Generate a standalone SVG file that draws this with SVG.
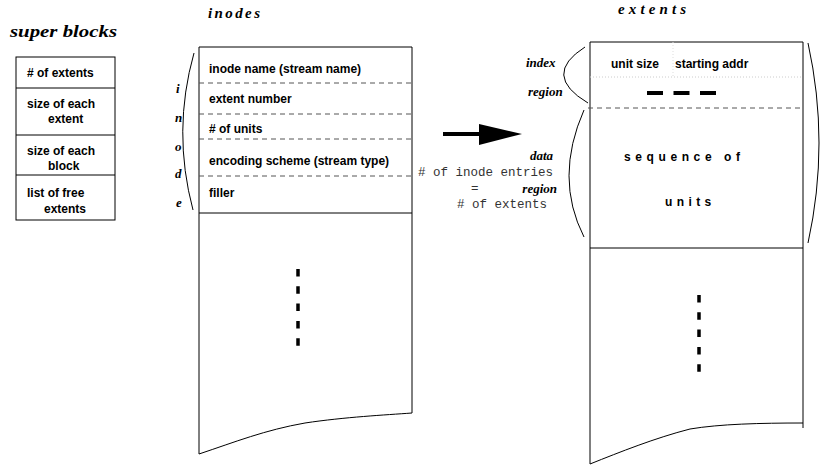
<svg xmlns="http://www.w3.org/2000/svg" width="830" height="466" viewBox="0 0 830 466">
<style>
.title{font-family:"Liberation Serif",serif;font-weight:bold;font-style:italic;fill:#000}
.lbl{font-family:"Liberation Sans",Arial,sans-serif;font-weight:bold;font-size:12px;fill:#000}
.ital{font-family:"Liberation Serif",serif;font-style:italic;font-weight:bold;font-size:13px;fill:#000}
.mono{font-family:"Liberation Mono","Courier New",monospace;font-size:12.5px;fill:#333}
.box{fill:none;stroke:#000;stroke-width:1}
.dash{stroke:#555;stroke-width:1;stroke-dasharray:5,4;fill:none}
.brace{fill:none;stroke:#000;stroke-width:1}
.thick{stroke:#000;stroke-width:3.5;fill:none}
</style>

<g id="superblocks">
<text class="title" x="10" y="37" font-size="17" textLength="107" lengthAdjust="spacingAndGlyphs">super blocks</text>
<rect class="box" x="16" y="57" width="99" height="163"/>
<line class="box" x1="16" y1="88" x2="115" y2="88"/>
<line class="box" x1="16" y1="135" x2="115" y2="135"/>
<line class="box" x1="16" y1="175" x2="115" y2="175"/>
<text class="lbl" x="27" y="77" font-size="11.5">#  of extents</text>
<text class="lbl" x="27" y="108" font-size="11.5">size of each</text>
<text class="lbl" x="48" y="123" font-size="11.5">extent</text>
<text class="lbl" x="27" y="155" font-size="11.5">size of each</text>
<text class="lbl" x="48" y="170" font-size="11.5">block</text>
<text class="lbl" x="27" y="197" font-size="11.5">list of free</text>
<text class="lbl" x="44" y="213" font-size="11.5">extents</text>
</g>

<g id="inodes">
<text class="title" x="208" y="18" font-size="15" textLength="52">inodes</text>
<path class="box" d="M199,454 L199,47 L412,47 L412,413 C385,415 345,417 305,423 C265,430 235,442 199,454"/>
<line class="dash" x1="199" y1="83" x2="412" y2="83"/>
<line class="dash" x1="199" y1="114" x2="412" y2="114"/>
<line class="dash" x1="199" y1="139" x2="412" y2="139"/>
<line class="dash" x1="199" y1="176" x2="412" y2="176"/>
<line class="box" x1="199" y1="213" x2="412" y2="213"/>
<text class="lbl" x="209" y="73" font-size="12.5">inode name (stream name)</text>
<text class="lbl" x="209" y="103" font-size="12.5">extent number</text>
<text class="lbl" x="209" y="133" font-size="12.5">#  of units</text>
<text class="lbl" x="209" y="165" font-size="12.5">encoding scheme (stream type)</text>
<text class="lbl" x="209" y="197" font-size="12.5">filler</text>
<line class="thick" x1="298" y1="269" x2="298" y2="347" stroke-dasharray="7.5,9.8"/>
<path class="brace" d="M194,53 Q172,131 193,210"/>
<text class="ital" x="176" y="93">i</text>
<text class="ital" x="175" y="122">n</text>
<text class="ital" x="175" y="151">o</text>
<text class="ital" x="175" y="178">d</text>
<text class="ital" x="176" y="207">e</text>
</g>

<g id="connectors">
<line x1="443" y1="134" x2="481" y2="134" stroke="#000" stroke-width="4"/>
<polygon points="479,124 522,134 479,145" fill="#000"/>
</g>

<g id="equation">
<text class="mono" x="418" y="176">#  of inode entries</text>
<text class="mono" x="471" y="192">=</text>
<text class="mono" x="457" y="208">#  of extents</text>
</g>

<g id="extents">
<text class="title" x="618" y="14" font-size="15" textLength="68">extents</text>
<path class="box" d="M590,464 L590,42 L803,42 L803,428 M803,423 C760,423 720,424 690,429 C655,438 620,452 590,464"/>
<line x1="590" y1="77" x2="803" y2="77" stroke="#ccc" stroke-width="1" stroke-dasharray="1,2"/>
<line x1="673" y1="42" x2="673" y2="77" stroke="#ddd" stroke-width="1" stroke-dasharray="1,2"/>
<text class="lbl" x="611" y="68" font-size="12">unit size</text>
<text class="lbl" x="675" y="68" font-size="12">starting addr</text>
<line x1="647" y1="93" x2="716" y2="93" stroke="#000" stroke-width="4" stroke-dasharray="16,10.5"/>
<line class="dash" x1="588" y1="108" x2="803" y2="108"/>
<line class="box" x1="590" y1="248" x2="803" y2="248"/>
<text class="lbl" x="624" y="161" font-size="11" letter-spacing="4.6">sequence</text>
<text class="lbl" x="724" y="161" font-size="11" letter-spacing="4.6">of</text>
<text class="lbl" x="665" y="206" font-size="11" letter-spacing="4.4">units</text>
<line class="thick" x1="699" y1="295" x2="699" y2="372" stroke-dasharray="7.5,9.8"/>
<path class="brace" d="M585,47 Q541,75 588,103"/>
<text class="ital" x="526" y="67">index</text>
<text class="ital" x="528" y="96">region</text>
<path class="brace" d="M584,110 Q554,178 584,237"/>
<text class="ital" x="553" y="160" text-anchor="end">data</text>
<text class="ital" x="557" y="193" text-anchor="end" font-size="12.5">region</text>
<path class="brace" d="M808,43 Q830,143 808,243"/>
</g>
</svg>
